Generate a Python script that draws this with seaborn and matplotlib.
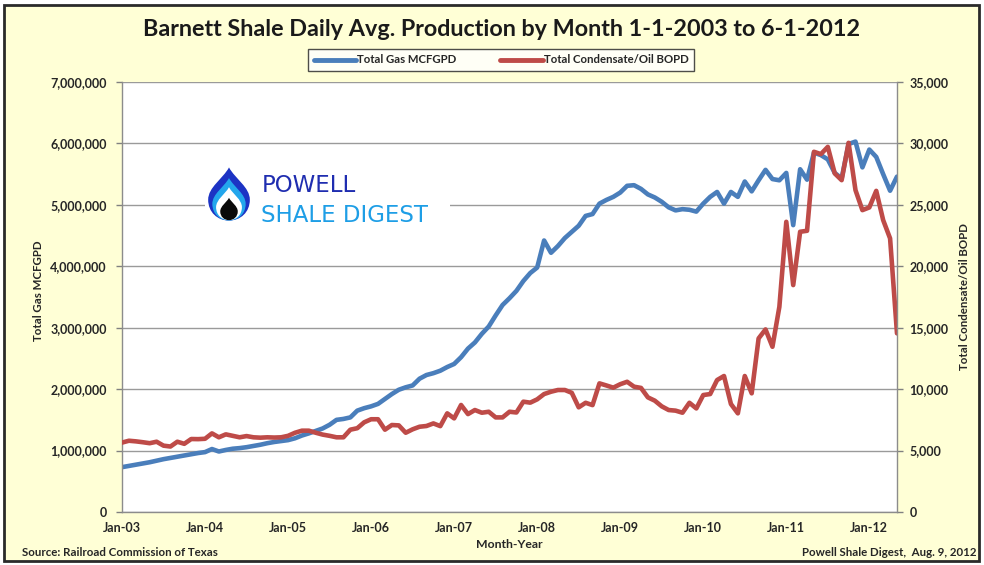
import matplotlib.pyplot as plt
import seaborn as sns
import pandas as pd
from matplotlib.patches import Rectangle, PathPatch
from matplotlib.path import Path
from matplotlib.lines import Line2D
from matplotlib.ticker import FuncFormatter

# producao media diaria por mes, jan-03 em diante
gas_mcfgpd = [
    730000, 750000, 770000, 790000, 810000, 835000, 860000, 880000, 900000, 920000,
    940000, 960000, 975000, 1025000, 985000, 1010000, 1030000, 1040000, 1055000, 1075000,
    1095000, 1120000, 1140000, 1155000, 1170000, 1200000, 1245000, 1280000, 1320000, 1360000,
    1420000, 1500000, 1515000, 1540000, 1650000, 1690000, 1720000, 1760000, 1840000, 1920000,
    1990000, 2030000, 2060000, 2170000, 2230000, 2260000, 2300000, 2360000, 2410000, 2520000,
    2660000, 2760000, 2900000, 3020000, 3200000, 3370000, 3480000, 3600000, 3760000, 3890000,
    3980000, 4420000, 4220000, 4330000, 4460000, 4560000, 4660000, 4820000, 4850000, 5020000,
    5080000, 5130000, 5200000, 5310000, 5320000, 5260000, 5170000, 5120000, 5050000, 4960000,
    4910000, 4930000, 4920000, 4890000, 5020000, 5130000, 5210000, 5020000, 5210000, 5130000,
    5380000, 5220000, 5400000, 5570000, 5420000, 5400000, 5520000, 4670000, 5580000, 5410000,
    5850000, 5810000, 5740000, 5520000, 5430000, 5990000, 6030000, 5610000, 5900000, 5780000,
    5500000, 5230000, 5460000,
]
oil_bopd = [
    5650, 5800, 5750, 5680, 5600, 5720, 5400, 5330, 5720, 5550,
    5940, 5930, 5960, 6400, 6080, 6320, 6200, 6080, 6180, 6080,
    6050, 6080, 6060, 6080, 6200, 6450, 6620, 6620, 6450, 6300,
    6200, 6080, 6080, 6700, 6820, 7300, 7550, 7550, 6700, 7080,
    7050, 6450, 6730, 6940, 7000, 7210, 6990, 8030, 7620, 8710,
    7970, 8300, 8080, 8160, 7700, 7700, 8160, 8100, 8980, 8900,
    9170, 9600, 9790, 9930, 9930, 9700, 8520, 8890, 8700, 10470,
    10300, 10120, 10400, 10600, 10200, 10100, 9330, 9060, 8600, 8300,
    8250, 8080, 8890, 8430, 9520, 9600, 10740, 11070, 8790, 8030,
    11070, 9660, 14130, 14860, 13450, 16700, 23620, 18470, 22810, 22890,
    29320, 29130, 29720, 27560, 27010, 30050, 26200, 24570, 24790, 26140,
    23760, 22270, 14540,
]
tick_labels = ['Jan-03', 'Jan-04', 'Jan-05', 'Jan-06', 'Jan-07',
               'Jan-08', 'Jan-09', 'Jan-10', 'Jan-11', 'Jan-12']

df = pd.DataFrame({'mes': range(len(gas_mcfgpd)), 'gas': gas_mcfgpd, 'oil': oil_bopd})

sns.set_theme(style='white')
plt.rcParams['font.family'] = ['Lato', 'DejaVu Sans']

azul = '#4A7EBB'
vermelho = '#BE4B48'
cinza = '#9A9A9A'

W, H = 984, 565
fig = plt.figure(figsize=(W / 100, H / 100), dpi=100)
fig.patch.set_facecolor('white')
fig.add_artist(Rectangle((4 / W, 4 / H), 1 - 9 / W, 1 - 9 / H, transform=fig.transFigure,
                         facecolor='#FFFFD6', edgecolor='#2A2A2A', linewidth=2, zorder=-10))

ax = fig.add_axes([122 / W, 1 - 512 / H, 775 / W, 430 / H])
ax.set_facecolor('white')
sns.lineplot(data=df, x='mes', y='gas', ax=ax, color=azul, linewidth=3.3, legend=False)
ax2 = ax.twinx()
sns.lineplot(data=df, x='mes', y='oil', ax=ax2, color=vermelho, linewidth=3.3, legend=False)

ax.set_xlim(0, len(gas_mcfgpd) - 1)
ax.set_ylim(0, 7000000)
ax2.set_ylim(0, 35000)
ax.set_yticks(range(0, 7000001, 1000000))
ax2.set_yticks(range(0, 35001, 5000))
ax.set_xticks(range(0, 12 * len(tick_labels), 12))
ax.set_xticklabels(tick_labels)
ax.yaxis.set_major_formatter(FuncFormatter(lambda v, p: f'{int(v):,}'))
ax2.yaxis.set_major_formatter(FuncFormatter(lambda v, p: f'{int(v):,}'))
ax.grid(True, axis='y', color=cinza, linewidth=1)
ax.set_xlabel('')
ax.set_ylabel('')
ax2.set_ylabel('')

for a in (ax, ax2):
    for s in a.spines.values():
        s.set_visible(False)
    a.tick_params(direction='out', length=4, width=1, color='#808080', labelsize=9, pad=7)
    for t in a.get_xticklabels() + a.get_yticklabels():
        t.set_fontweight('bold')
ax.spines['left'].set_visible(True)
ax.spines['bottom'].set_visible(True)
ax2.spines['right'].set_visible(True)
for s in (ax.spines['left'], ax.spines['bottom'], ax2.spines['right']):
    s.set_color('#8C8C8C')
    s.set_linewidth(1)
ax.tick_params(axis='x', pad=3)
ax2.tick_params(axis='y', pad=5)

# textos
fig.text(0.510, 1 - 30 / H, 'Barnett Shale Daily Avg. Production by Month 1-1-2003 to 6-1-2012',
         ha='center', va='center', fontsize=16.8, fontweight='bold', color='#1A1A1A')
fig.text(38 / W, 1 - 291 / H, 'Total Gas MCFGPD', rotation=90, ha='center', va='center',
         fontsize=8.3, fontweight='bold')
fig.text(965 / W, 1 - 297 / H, 'Total Condensate/Oil BOPD', rotation=90, ha='center', va='center',
         fontsize=8.3, fontweight='bold')
fig.text(509 / W, 1 - 545 / H, 'Month-Year', ha='center', va='center', fontsize=8.8, fontweight='bold')
fig.text(22 / W, 1 - 552 / H, 'Source: Railroad Commission of Texas', ha='left', va='center',
         fontsize=8.3, fontweight='bold')
fig.text(977 / W, 1 - 552 / H, 'Powell Shale Digest,  Aug. 9, 2012', ha='right', va='center',
         fontsize=8.3, fontweight='bold')

# legenda
handles = [Line2D([], [], color=azul, linewidth=3.5), Line2D([], [], color=vermelho, linewidth=3.5)]
leg = fig.legend(handles, ['Total Gas MCFGPD', 'Total Condensate/Oil BOPD'], loc='center',
                 bbox_to_anchor=(501 / W, 1 - 60 / H), ncol=2, frameon=True, fancybox=False,
                 prop={'size': 8.2, 'weight': 'bold'}, handlelength=3.7, handletextpad=0.1,
                 columnspacing=3.9, borderpad=0.45, borderaxespad=0)
leg.get_frame().set_edgecolor('#222222')
leg.get_frame().set_linewidth(1)
leg.get_frame().set_facecolor('white')

# logo
fig.add_artist(Rectangle((205 / W, 1 - 230 / H), 245 / W, 74 / H, transform=fig.transFigure,
                         facecolor='white', edgecolor='none', zorder=5))
logo = fig.add_axes([204 / W, 1 - 227 / H, 50 / W, 66 / H], zorder=6)
logo.set_xlim(-1.2, 1.2)
logo.set_ylim(-1.15, 1.7)
logo.set_aspect('equal')
logo.axis('off')
gota = [(0, 1.55), (0.3, 1.0), (1.0, 0.6), (1.0, 0.0), (1.0, -0.6), (0.55, -1.0), (0, -1.0),
        (-0.55, -1.0), (-1.0, -0.6), (-1.0, 0.0), (-1.0, 0.6), (-0.3, 1.0), (0, 1.55), (0, 1.55)]
codes = [Path.MOVETO] + [Path.CURVE4] * 12 + [Path.CLOSEPOLY]
for esc, dy, cor in [(1.0, 0.0, '#1C33C4'), (0.8, -0.2, '#23A6EC'), (0.62, -0.36, 'white'),
                     (0.42, -0.56, '#0A0A0A')]:
    vs = [(x * esc, y * esc + dy) for x, y in gota]
    logo.add_patch(PathPatch(Path(vs, codes), facecolor=cor, edgecolor='none'))
fig.text(262 / W, 1 - 192 / H, 'POWELL', ha='left', va='baseline', fontsize=16.5,
         color='#1F2DB0', family='DejaVu Sans', zorder=7)
fig.text(261 / W, 1 - 222 / H, 'SHALE DIGEST', ha='left', va='baseline', fontsize=16.5,
         color='#1E9EE6', family='DejaVu Sans', zorder=7)

plt.savefig('out.png', dpi=100, facecolor=fig.get_facecolor())
